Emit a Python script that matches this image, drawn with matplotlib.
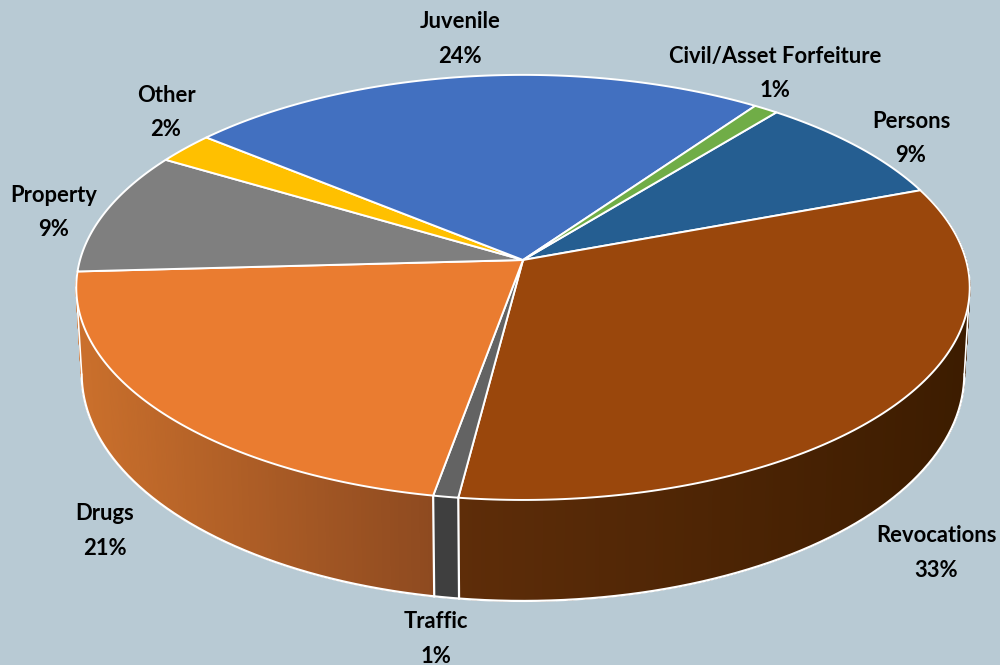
import numpy as np
import matplotlib

matplotlib.use("Agg")

import matplotlib.pyplot as plt
from matplotlib.colors import to_rgb
from matplotlib.patches import Polygon

plt.rcParams["font.family"] = ["Lato", "DejaVu Sans"]

categories = ["Persons", "Revocations", "Traffic", "Drugs", "Property", "Other", "Juvenile", "Civil/Asset Forfeiture"]
shares = [8.5, 32.7, 0.8, 21.3, 9.4, 2.4, 23.9, 1.0]
pct_labels = ["9%", "33%", "1%", "21%", "9%", "2%", "24%", "1%"]
colors = ["#255E91", "#9A470C", "#636363", "#EA7C30", "#7F7F7F", "#FFC000", "#4270C0", "#70AD47"]
side_left = [None, "#5E2D09", "#3F3F3F", "#CB702C", None, None, None, None]
side_right = [None, "#3C1C00", "#3F3F3F", "#8E4A20", None, None, None, None]
label_x = [911, 936, 436, 105, 54, 166, 460, 775]
label_y = [121, 536, 622, 514, 195, 95, 22, 56]

BG = "#B8CAD4"
START = 39.0
CX, CY = 523, 260
A, B, K = 443, 209, 0.129
DEPTH_MID, DEPTH_TILT, SHRINK = 84, 17, 0.988


def top_xy(theta):
    u, v = np.sin(np.radians(theta)), np.cos(np.radians(theta))
    return CX + A * u / (1 + K * v), CY - B * v / (1 + K * v)


def low_xy(theta):
    x, y = top_xy(theta)
    v = np.cos(np.radians(theta))
    return CX + (x - CX) * SHRINK, y + DEPTH_MID - DEPTH_TILT * v


fig = plt.figure(figsize=(10, 6.65), dpi=100, facecolor=BG)
ax = fig.add_axes([0, 0, 1, 1])
ax.set_xlim(0, 1000)
ax.set_ylim(665, 0)
ax.axis("off")

edges = START + np.concatenate([[0], np.cumsum(shares)]) * 360 / sum(shares)

# where top and bottom rims turn back, left and right
sweep = np.linspace(60, 300, 2401)
right_top, right_low = sweep[np.argmax(top_xy(sweep)[0])], sweep[np.argmax(low_xy(sweep)[0])]
left_top, left_low = sweep[np.argmin(top_xy(sweep)[0])], sweep[np.argmin(low_xy(sweep)[0])]

# side walls, outer wedges first so the thin one sits on top
for i in [1, 3, 2]:
    t0, t1 = edges[i], edges[i + 1]
    if i == 3:
        # wall keeps going a little round the left end, where the rim hides it
        t1 = max(t1, left_top)
    steps = np.linspace(t0, t1, int((t1 - t0) * 2) + 2)
    if i == 3:
        steps = steps[::-1]
    xs = top_xy(steps)[0]
    c_l, c_r = np.array(to_rgb(side_left[i])), np.array(to_rgb(side_right[i]))
    for a, b in zip(steps[:-1], steps[1:]):
        xa, ya = top_xy(a)
        xb, yb = top_xy(b)
        xc, yc = low_xy(b)
        xd, yd = low_xy(a)
        f = (0.5 * (xa + xb) - xs.min()) / (xs.max() - xs.min())
        col = c_l + (c_r - c_l) * f
        ax.add_patch(Polygon([(xa, ya), (xb, yb), (xc, yc), (xd, yd)], closed=True, fc=col, ec=col, lw=1.0, zorder=2))
    keep = (steps >= right_low) & (steps <= left_low)
    lx, ly = low_xy(steps[keep])
    ax.plot(lx, ly, color="white", lw=1.6, zorder=3, solid_capstyle="round")

# white verticals between the visible walls
for t in [edges[2], edges[3]]:
    ax.plot([top_xy(t)[0], low_xy(t)[0]], [top_xy(t)[1], low_xy(t)[1]], color="white", lw=1.6, zorder=3)

# outer silhouette of the drum
for t_up, t_down in [(right_top, right_low), (left_top, left_low)]:
    ax.plot([top_xy(t_up)[0], low_xy(t_down)[0]], [top_xy(t_up)[1], low_xy(t_down)[1]], color="white", lw=1.2, zorder=3)

# top face
for i, col in enumerate(colors):
    t = np.linspace(edges[i], edges[i + 1], 150)
    x, y = top_xy(t)
    pts = [(CX, CY)] + list(zip(x, y))
    ax.add_patch(Polygon(pts, closed=True, fc=col, ec="white", lw=1.4, joinstyle="round", zorder=4))

for name, pct, x, y in zip(categories, pct_labels, label_x, label_y):
    ax.text(x, y, name, ha="center", va="center", fontsize=15.8, fontweight="bold", color="black", zorder=5)
    ax.text(x, y + 34.5, pct, ha="center", va="center", fontsize=15.8, fontweight="bold", color="black", zorder=5)

fig.savefig("out.png", dpi=100, facecolor=BG)
